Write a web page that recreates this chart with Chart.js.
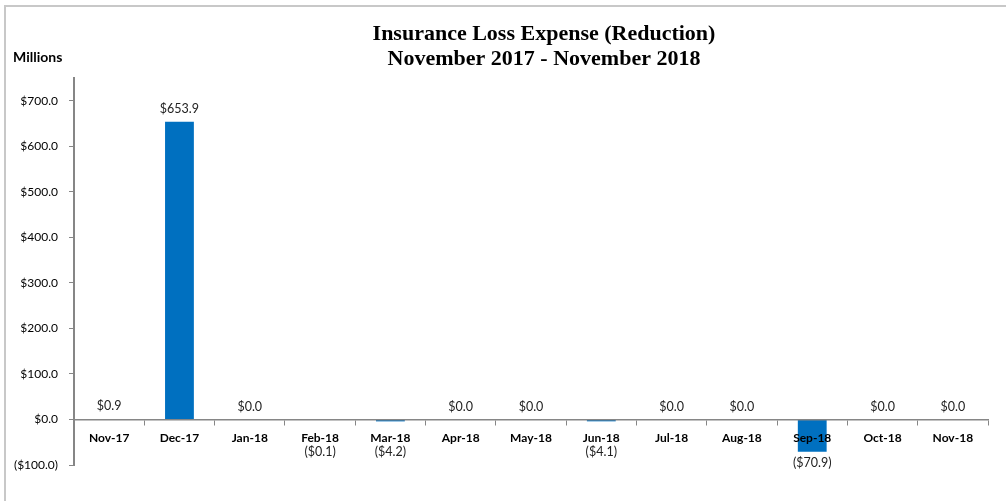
<!DOCTYPE html>
<html>
<head>
<meta charset="utf-8">
<script src="https://cdn.jsdelivr.net/npm/chart.js@4"></script>
<style>
  html, body { margin: 0; padding: 0; background: #fff; }
  #wrap { position: relative; width: 1006px; height: 501px; overflow: hidden; }
  #frame { position: absolute; left: 4px; top: 5px; width: 1100px; height: 600px;
           border-left: 2px solid #c8c8c8; border-top: 2px solid #c8c8c8; }
  canvas { position: absolute; left: 0; top: 0; }
</style>
</head>
<body>
<div id="wrap">
  <div id="frame"></div>
  <canvas id="myChart" width="1006" height="501"></canvas>
</div>
<script>
// data
var months = ['Nov-17', 'Dec-17', 'Jan-18', 'Feb-18', 'Mar-18', 'Apr-18', 'May-18',
              'Jun-18', 'Jul-18', 'Aug-18', 'Sep-18', 'Oct-18', 'Nov-18']
var lossExpense = [0.9, 653.9, 0.0, -0.1, -4.2, 0.0, 0.0, -4.1, 0.0, 0.0, -70.9, 0.0, 0.0]
var yTicks = [-100, 0, 100, 200, 300, 400, 500, 600, 700]
var titleLines = ['Insurance Loss Expense (Reduction)', 'November 2017 - November 2018']
var unitLabel = 'Millions'

var FONT = 'Lato'

function money(v) {
    var s = '$' + Math.abs(v).toFixed(1)
    return v < 0 ? '(' + s + ')' : s
}

// title, unit label and value labels
var textPlugin = {
    id: 'textPlugin',
    afterDraw: function (chart) {
        var ctx = chart.ctx
        var area = chart.chartArea
        ctx.save()

        ctx.fillStyle = '#000'
        ctx.textAlign = 'center'
        ctx.textBaseline = 'middle'
        ctx.font = 'bold 22px "Liberation Serif"'
        var cx = (area.left + area.right) / 2 + 13
        ctx.fillText(titleLines[0], cx, 34)
        ctx.fillText(titleLines[1], cx, 59)

        ctx.textAlign = 'left'
        ctx.font = 'bold 14px ' + FONT
        ctx.fillText(unitLabel, 13, 57)

        var zero = chart.scales.y.getPixelForValue(0)
        var bars = chart.getDatasetMeta(0).data
        ctx.textAlign = 'center'
        ctx.font = '12.5px ' + FONT
        ctx.fillStyle = '#222'
        bars.forEach(function (bar, i) {
            var v = lossExpense[i]
            var y
            if (v >= 0) {
                y = bar.y - 13
            } else {
                y = Math.max(bar.y + 11, zero + 32)
            }
            ctx.fillText(money(v), bar.x, y)
        })
        ctx.restore()
    }
}

var ctx = document.getElementById('myChart').getContext('2d')
var chart = new Chart(ctx, {
    type: 'bar',
    data: {
        labels: months,
        datasets: [{
            label: 'Insurance Loss Expense',
            data: lossExpense,
            backgroundColor: '#0070C0',
            borderWidth: 0,
            categoryPercentage: 1,
            barPercentage: 0.41
        }]
    },
    options: {
        responsive: false,
        animation: false,
        layout: { padding: { left: 0, right: 18, top: 78, bottom: 36 } },
        plugins: {
            legend: { display: false },
            title: { display: false },
            tooltip: { enabled: false }
        },
        scales: {
            x: {
                position: { y: 0 },
                offset: true,
                afterFit: function (scale) { scale.height = 0 },
                grid: {
                    offset: true,
                    drawOnChartArea: false,
                    drawTicks: true,
                    tickLength: 5,
                    color: '#868686',
                    lineWidth: 1,
                    z: 1
                },
                border: { display: true, color: '#868686', width: 1.5, z: 1 },
                ticks: {
                    z: 2,
                    color: '#000',
                    padding: 6,
                    maxRotation: 0,
                    autoSkip: false,
                    font: { family: FONT, size: 12, weight: 'bold' }
                }
            },
            y: {
                min: -100,
                max: 750,
                afterFit: function (scale) { scale.width = 74 },
                afterBuildTicks: function (scale) {
                    scale.ticks = yTicks.map(function (v) { return { value: v } })
                },
                grid: {
                    drawOnChartArea: false,
                    drawTicks: true,
                    tickLength: 5,
                    color: '#868686'
                },
                border: { display: true, color: '#868686', width: 2 },
                ticks: {
                    color: '#000',
                    padding: 11,
                    font: { family: FONT, size: 12 },
                    callback: function (v) { return money(v) }
                }
            }
        }
    },
    plugins: [textPlugin]
})
</script>
</body>
</html>
